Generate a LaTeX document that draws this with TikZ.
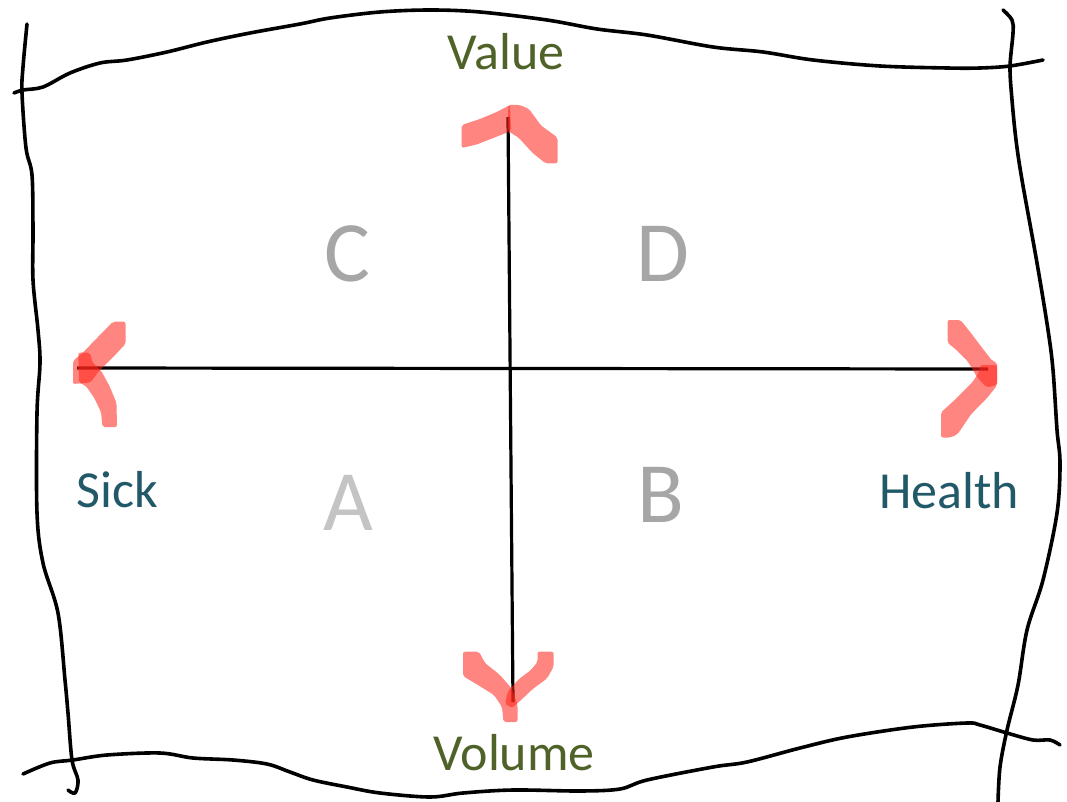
\documentclass[tikz,border=0pt]{standalone}
\usepackage{fontspec}
\setmainfont{Carlito}
\definecolor{olivetext}{HTML}{4F6228}
\definecolor{tealtext}{HTML}{215968}
\definecolor{quadgrey}{HTML}{A6A6A6}
\definecolor{quadlight}{HTML}{C4C4C4}
\definecolor{marker}{RGB}{255,35,25}
\tikzset{
  frame/.style={line width=3.6pt, line cap=round, line join=round, black},
  axis/.style={line width=3.2pt, black},
  highlighter/.style={fill=marker, fill opacity=0.55, draw=none, rounded corners=2pt},
  axislabel/.style={anchor=base, inner sep=0pt, font=\fontsize{52}{52}\selectfont},
  quadrant/.style={anchor=base, inner sep=0pt, font=\fontsize{86}{86}\selectfont, text=quadgrey},
}
\begin{document}
\begin{tikzpicture}[x=1pt, y=-1pt]
\useasboundingbox (0,0) rectangle (1067,802);
\fill[white] (0,0) rectangle (1067,802);

% hand-drawn frame
\draw[frame] plot[smooth, tension=0.55] coordinates {
  (14,93) (23,90) (43,87) (70,73) (100,63) (127,60) (167,52) (207,42) (250,33)
  (300,24) (330,18) (380,12) (430,10) (480,12) (547,20) (597,29) (647,35)
  (713,47) (763,52) (813,60) (880,66) (947,68) (980,68) (1010,66) (1043,60)};
\draw[frame] plot[smooth, tension=0.55] coordinates {
  (27,24) (23,67) (22,93) (26,148) (32,175) (33,230) (33,280) (38,330) (40,363)
  (37,413) (37,513) (43,563) (58,613) (65,680) (68,713) (72,760) (78,780)
  (75,793) (68,790)};
\draw[frame] plot[smooth, tension=0.55] coordinates {
  (1003,10) (1012,20) (1013,33) (1010,67) (1012,100) (1016,140) (1022,180)
  (1037,263) (1048,330) (1053,370) (1057,430) (1060,463) (1057,513) (1043,580)
  (1027,630) (1018,685) (1007,730) (1000,767) (998,802)};
\draw[frame] plot[smooth, tension=0.55] coordinates {
  (23,774) (50,763) (73,760) (107,755) (160,753) (193,758) (233,760) (267,764)
  (290,772) (313,780) (347,787) (380,793) (430,797) (463,793) (513,790)
  (580,791) (620,789) (647,780) (713,767) (747,762) (800,748) (847,737)
  (913,727) (967,723) (980,725) (1007,733) (1033,740) (1050,740) (1060,745)};

% axes
\coordinate (west) at (77,368);
\coordinate (east) at (988,369);
\coordinate (north) at (508,117);
\coordinate (south) at (513,702);
\draw[axis] (west) -- (east);
\draw[axis] (north) -- (south);

% marker arrowheads: top
\fill[highlighter] (461.7,125) -- (480,119) -- (496.7,112) -- (510,105)
  -- (511,131) -- (493.3,138) -- (476.7,144.5) -- (461.7,148) -- cycle;
\fill[highlighter] (508.3,105) -- (520,105) -- (529,109) -- (541,125.5)
  -- (557.5,137.5) -- (557.5,163.3) -- (545.5,163.3) -- (532.3,152.7)
  -- (519,138) -- (508,131) -- cycle;
% bottom
\fill[highlighter] (463,651.7) -- (479,651.7) -- (485,663) -- (500,675)
  -- (512,689) -- (517.5,705) -- (517.5,722) -- (503.5,722)
  -- (502,707) -- (494,695) -- (478,685) -- (463,676) -- cycle;
\fill[highlighter] (537.5,651.7) -- (553.5,651.7) -- (553.5,667) -- (547,678.5)
  -- (532.7,689) -- (520,701) -- (512,708) -- (505,704)
  -- (508,691) -- (519,679) -- (531,670) -- (537.5,662) -- cycle;
% left
\fill[highlighter] (113,321.7) -- (125.5,321.7) -- (125.5,344) -- (112.5,357.7)
  -- (99,371) -- (90.5,382.5) -- (73,384) -- (73,361) -- (83,352.5)
  -- (97.5,337.5) -- cycle;
\fill[highlighter] (78.3,352.7) -- (90,352.7) -- (92.5,362.5) -- (101,370.7)
  -- (109.5,386) -- (116.5,403) -- (117,427) -- (102.5,427)
  -- (101,412) -- (94,397.5) -- (86,386) -- (79,382.5) -- cycle;
% right
\fill[highlighter] (947.5,320) -- (960.5,320) -- (970.5,332.5) -- (980.5,345.7)
  -- (992,360.7) -- (997,362.5) -- (997,385) -- (986.7,387.5)
  -- (977.5,377.7) -- (967.5,361) -- (955.7,349.3) -- (947.5,342.7) -- cycle;
\fill[highlighter] (980,365) -- (997,365) -- (997,385.5) -- (987.5,397.5)
  -- (971,414.3) -- (957.5,434.3) -- (950.5,437.5) -- (941,437.5)
  -- (941,412.5) -- (955.7,399) -- (972.3,382.3) -- (979,372.3) -- cycle;

% axis labels
\node[axislabel, text=olivetext] (value) at (506,70) {Value};
\node[axislabel, text=olivetext] (volume) at (514,770) {Volume};
\node[axislabel, text=tealtext] (sick) at (117,507) {Sick};
\node[axislabel, text=tealtext] (health) at (949,508) {Health};

% quadrants
\node[quadrant] (qc) at (347,281) {C};
\node[quadrant] (qd) at (663,281) {D};
\node[quadrant, text=quadlight] (qa) at (348,530) {A};
\node[quadrant] (qb) at (661,522) {B};
\end{tikzpicture}
\end{document}
